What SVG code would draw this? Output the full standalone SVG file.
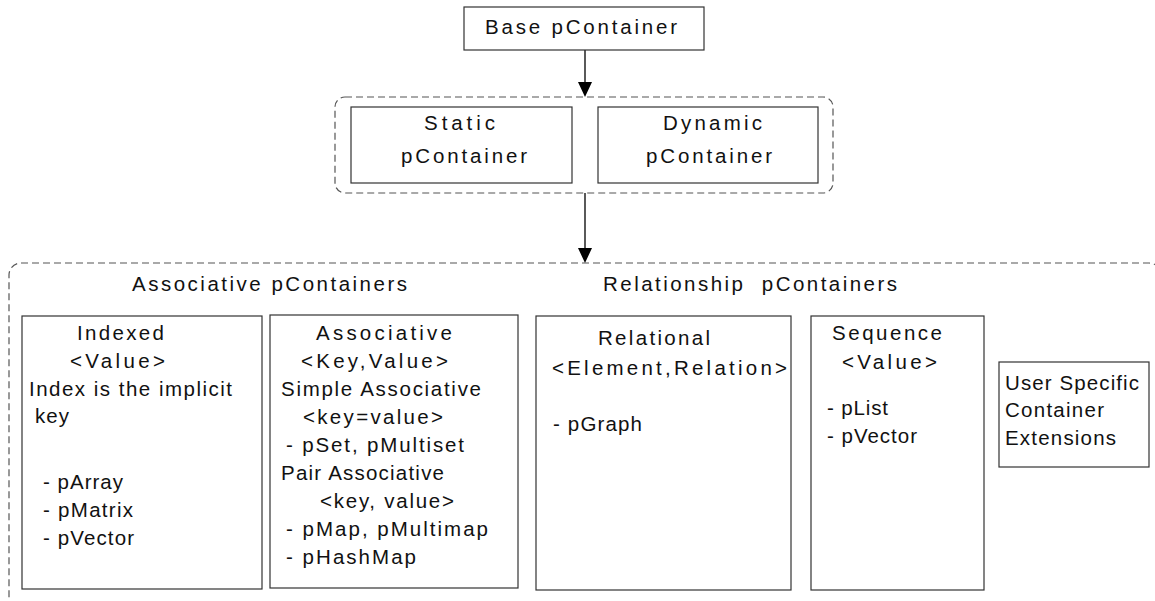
<svg xmlns="http://www.w3.org/2000/svg" width="1155" height="601" viewBox="0 0 1155 601">
  <style>
    .box { fill: #ffffff; stroke: #333333; stroke-width: 1.2; }
    .group { fill: none; stroke: #555555; stroke-width: 1.2; stroke-dasharray: 7 4; }
    .wire { stroke: #000000; stroke-width: 1.3; fill: none; }
    .head { fill: #000000; }
    text { font-family: "Liberation Sans", Arial, sans-serif; font-size: 20.5px; fill: #111111; }
  </style>
  <rect width="1155" height="601" fill="#ffffff"/>

  <!-- dashed grouping frames -->
  <rect id="group-storage" class="group" x="335" y="97" width="498" height="96" rx="10"/>
  <rect id="group-kinds" class="group" x="9" y="263" width="1152" height="360" rx="12"/>

  <!-- connectors -->
  <g id="connectors">
    <line class="wire" x1="585" y1="50" x2="585" y2="84"/>
    <polygon class="head" points="578,82 592,82 585,97"/>
    <line class="wire" x1="585" y1="193" x2="585" y2="250"/>
    <polygon class="head" points="578,248 592,248 585,263"/>
  </g>

  <g id="base">
    <rect class="box" x="464" y="7" width="240" height="43"/>
    <text x="485" y="34" textLength="192" lengthAdjust="spacing">Base pContainer</text>
  </g>

  <g id="static">
    <rect class="box" x="351" y="107" width="221" height="76"/>
    <text x="424" y="130" textLength="71" lengthAdjust="spacing">Static</text>
    <text x="401" y="163" textLength="126" lengthAdjust="spacing">pContainer</text>
  </g>

  <g id="dynamic">
    <rect class="box" x="598" y="107" width="220" height="76"/>
    <text x="663" y="130" textLength="99" lengthAdjust="spacing">Dynamic</text>
    <text x="646" y="163" textLength="126" lengthAdjust="spacing">pContainer</text>
  </g>

  <g id="headings">
    <text x="132" y="291" textLength="275" lengthAdjust="spacing">Associative pContainers</text>
    <text x="603" y="291" textLength="294" lengthAdjust="spacing" xml:space="preserve">Relationship  pContainers</text>
  </g>

  <g id="indexed">
    <rect class="box" x="22" y="316" width="240" height="273"/>
    <text x="77" y="340" textLength="87" lengthAdjust="spacing">Indexed</text>
    <text x="70" y="368" textLength="95" lengthAdjust="spacing">&lt;Value&gt;</text>
    <text x="29" y="396" textLength="203" lengthAdjust="spacing">Index is the implicit</text>
    <text x="35" y="423" textLength="34" lengthAdjust="spacing">key</text>
    <text x="43" y="489" textLength="80" lengthAdjust="spacing">- pArray</text>
    <text x="43" y="517" textLength="90" lengthAdjust="spacing">- pMatrix</text>
    <text x="43" y="545" textLength="91" lengthAdjust="spacing">- pVector</text>
  </g>

  <g id="associative">
    <rect class="box" x="270" y="315" width="248" height="273"/>
    <text x="316" y="340" textLength="136" lengthAdjust="spacing">Associative</text>
    <text x="301" y="368" textLength="147" lengthAdjust="spacing">&lt;Key,Value&gt;</text>
    <text x="281" y="396" textLength="200" lengthAdjust="spacing">Simple Associative</text>
    <text x="303" y="424" textLength="140" lengthAdjust="spacing">&lt;key=value&gt;</text>
    <text x="286" y="452" textLength="178" lengthAdjust="spacing">- pSet, pMultiset</text>
    <text x="281" y="480" textLength="163" lengthAdjust="spacing">Pair Associative</text>
    <text x="320" y="508" textLength="134" lengthAdjust="spacing">&lt;key, value&gt;</text>
    <text x="286" y="536" textLength="202" lengthAdjust="spacing">- pMap, pMultimap</text>
    <text x="286" y="564" textLength="130" lengthAdjust="spacing">- pHashMap</text>
  </g>

  <g id="relational">
    <rect class="box" x="536" y="316" width="255" height="274"/>
    <text x="598" y="345" textLength="112" lengthAdjust="spacing">Relational</text>
    <text x="552" y="375" textLength="235" lengthAdjust="spacing">&lt;Element,Relation&gt;</text>
    <text x="553" y="431" textLength="89" lengthAdjust="spacing">- pGraph</text>
  </g>

  <g id="sequence">
    <rect class="box" x="811" y="316" width="173" height="274"/>
    <text x="832" y="340" textLength="110" lengthAdjust="spacing">Sequence</text>
    <text x="842" y="369" textLength="95" lengthAdjust="spacing">&lt;Value&gt;</text>
    <text x="827" y="415" textLength="61" lengthAdjust="spacing">- pList</text>
    <text x="827" y="443" textLength="90" lengthAdjust="spacing">- pVector</text>
  </g>

  <g id="user-specific">
    <rect class="box" x="999" y="362" width="150" height="105"/>
    <text x="1005" y="390" textLength="134" lengthAdjust="spacing">User Specific</text>
    <text x="1005" y="417" textLength="99" lengthAdjust="spacing">Container</text>
    <text x="1005" y="445" textLength="111" lengthAdjust="spacing">Extensions</text>
  </g>
</svg>
